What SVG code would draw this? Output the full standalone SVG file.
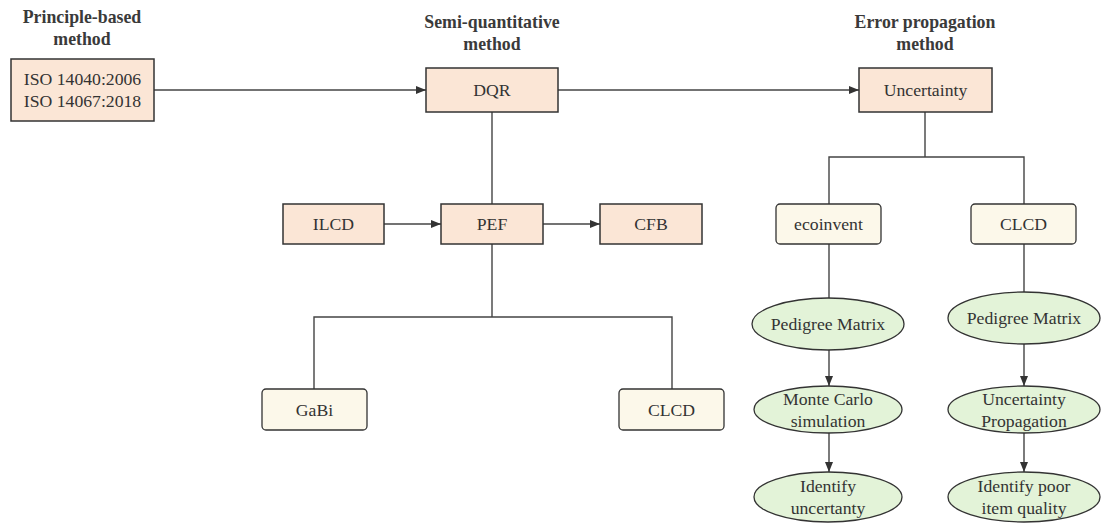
<svg xmlns="http://www.w3.org/2000/svg" width="1108" height="532" viewBox="0 0 1108 532">
<style>
text{font-family:'Liberation Serif','DejaVu Serif',serif;fill:#333;text-anchor:middle;dominant-baseline:central}
.h{font-weight:bold;font-size:17.8px;fill:#3a3a3a}
.t{font-size:17.7px}
.p{fill:#fbe6d6;stroke:#333;stroke-width:1.5}
.y{fill:#fcf8ea;stroke:#333;stroke-width:1.3}
.g{fill:#e3f3d8;stroke:#333;stroke-width:1.3}
.c{fill:none;stroke:#444;stroke-width:1.4}
</style>
<defs>
<marker id="ah" viewBox="0 0 10 10" refX="10" refY="5" markerWidth="10" markerHeight="10" markerUnits="userSpaceOnUse" orient="auto">
<path d="M0,1 L10,5 L0,9 Z" fill="#333"/>
</marker>
</defs>
<g font-family="Liberation Serif, serif">
<g id="headers">
<text class="h" x="82" y="17">Principle-based</text>
<text class="h" x="82" y="39">method</text>
<text class="h" x="492" y="22">Semi-quantitative</text>
<text class="h" x="492" y="44">method</text>
<text class="h" x="925" y="22">Error propagation</text>
<text class="h" x="925" y="44">method</text>
</g>
<g id="connectors">
<path class="c" d="M154,90 H426" marker-end="url(#ah)"/>
<path class="c" d="M558,90 H859" marker-end="url(#ah)"/>
<path class="c" d="M492,112 V204"/>
<path class="c" d="M384,224 H441" marker-end="url(#ah)"/>
<path class="c" d="M543,224 H600" marker-end="url(#ah)"/>
<path class="c" d="M492,244 V317 M314,389 V317 H672 V389"/>
<path class="c" d="M925,112 V157 M829,204 V157 H1024 V204"/>
<path class="c" d="M829,244 V298"/>
<path class="c" d="M1024,244 V292"/>
<path class="c" d="M829,350 V386" marker-end="url(#ah)"/>
<path class="c" d="M1024,344 V386" marker-end="url(#ah)"/>
<path class="c" d="M829,433 V472" marker-end="url(#ah)"/>
<path class="c" d="M1024,433 V472" marker-end="url(#ah)"/>
</g>
<g id="iso">
<rect class="p" x="11" y="59" width="143" height="62"/>
<text class="t" x="82.5" y="79">ISO 14040:2006</text>
<text class="t" x="82.5" y="101">ISO 14067:2018</text>
</g>
<g id="dqr">
<rect class="p" x="426" y="68" width="132" height="44"/>
<text class="t" x="492" y="90">DQR</text>
</g>
<g id="uncertainty">
<rect class="p" x="859" y="68" width="133" height="44"/>
<text class="t" x="925.5" y="90">Uncertainty</text>
</g>
<g id="ilcd">
<rect class="p" x="283" y="204" width="101" height="40"/>
<text class="t" x="333.5" y="224">ILCD</text>
</g>
<g id="pef">
<rect class="p" x="441" y="204" width="102" height="40"/>
<text class="t" x="492" y="224">PEF</text>
</g>
<g id="cfb">
<rect class="p" x="600" y="204" width="102" height="40"/>
<text class="t" x="651" y="224">CFB</text>
</g>
<g id="gabi">
<rect class="y" x="262" y="389" width="105" height="41" rx="4"/>
<text class="t" x="314.5" y="409.5">GaBi</text>
</g>
<g id="clcd1">
<rect class="y" x="619" y="389" width="105" height="41" rx="4"/>
<text class="t" x="671.5" y="409.5">CLCD</text>
</g>
<g id="ecoinvent">
<rect class="y" x="776" y="204" width="105" height="40" rx="4"/>
<text class="t" x="828.5" y="224">ecoinvent</text>
</g>
<g id="clcd2">
<rect class="y" x="971" y="204" width="105" height="40" rx="4"/>
<text class="t" x="1023.5" y="224">CLCD</text>
</g>
<g id="pedigree1">
<ellipse class="g" cx="828" cy="324" rx="76" ry="26"/>
<text class="t" x="828" y="324">Pedigree Matrix</text>
</g>
<g id="pedigree2">
<ellipse class="g" cx="1024" cy="318" rx="76" ry="26"/>
<text class="t" x="1024" y="318">Pedigree Matrix</text>
</g>
<g id="montecarlo">
<ellipse class="g" cx="828" cy="409.5" rx="74" ry="23.5"/>
<text class="t" x="828" y="399">Monte Carlo</text>
<text class="t" x="828" y="421">simulation</text>
</g>
<g id="propagation">
<ellipse class="g" cx="1024" cy="409.5" rx="76" ry="23.5"/>
<text class="t" x="1024" y="399">Uncertainty</text>
<text class="t" x="1024" y="421">Propagation</text>
</g>
<g id="identify1">
<ellipse class="g" cx="828" cy="497" rx="74" ry="25"/>
<text class="t" x="828" y="486">Identify</text>
<text class="t" x="828" y="508">uncertanty</text>
</g>
<g id="identify2">
<ellipse class="g" cx="1024" cy="497" rx="76" ry="25"/>
<text class="t" x="1024" y="486">Identify poor</text>
<text class="t" x="1024" y="508">item quality</text>
</g>
</g>
</svg>
